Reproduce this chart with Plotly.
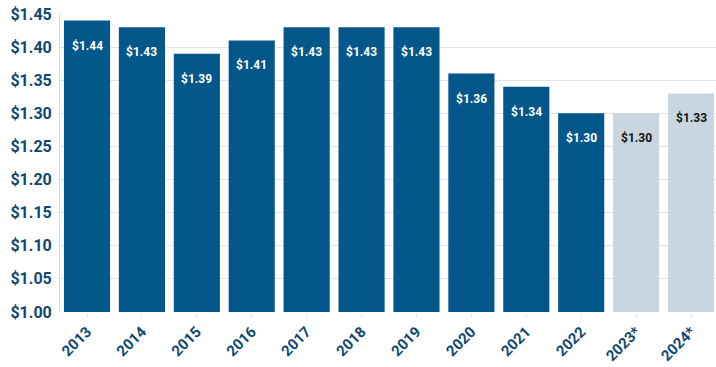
import plotly.graph_objects as go

years = ["2013", "2014", "2015", "2016", "2017", "2018", "2019", "2020", "2021", "2022", "2023*", "2024*"]
values = [1.44, 1.43, 1.39, 1.41, 1.43, 1.43, 1.43, 1.36, 1.34, 1.30, 1.30, 1.33]
projected = [False] * 10 + [True, True]
y_ticks = [1.00, 1.05, 1.10, 1.15, 1.20, 1.25, 1.30, 1.35, 1.40, 1.45]

DARK = "#03578A"
LIGHT = "#C9D6DF"
TEXT = "#0F4870"
FONT = "Roboto, Arial"

colors = [LIGHT if p else DARK for p in projected]

fig = go.Figure(go.Bar(
    x=list(range(len(years))), y=values, base=0,
    marker=dict(color=colors, line=dict(width=0)),
    width=0.84, hoverinfo="skip",
))

for i, (v, p) in enumerate(zip(values, projected)):
    fig.add_annotation(
        x=i, y=v, yshift=-25, text=f"<b>${v:.2f}</b>", showarrow=False,
        font=dict(family=FONT, size=12, color="#111111" if p else "white"),
    )

fig.update_layout(
    width=716, height=367,
    margin=dict(l=60, r=0, t=14, b=55, autoexpand=False),
    paper_bgcolor="white", plot_bgcolor="white",
    showlegend=False,
    xaxis=dict(
        range=[-0.492, 11.455], automargin=False,
        tickmode="array", tickvals=list(range(len(years))),
        ticktext=[f"<b>{y}</b>" for y in years],
        tickangle=-45, tickfont=dict(family=FONT, size=15, color=TEXT),
        showgrid=False, zeroline=False, showline=False,
        ticks="outside", ticklen=4, tickcolor="#e3e3e3",
    ),
    yaxis=dict(
        range=[1.0, 1.45], automargin=False,
        tickmode="array", tickvals=y_ticks,
        ticktext=[f"<b>${t:.2f}</b>" for t in y_ticks],
        tickfont=dict(family=FONT, size=16, color=TEXT),
        ticklabelstandoff=4,
        showgrid=True, gridcolor="#e3e3e3", gridwidth=1,
        zeroline=False, showline=True, linecolor="#dcdcdc", linewidth=1,
        ticks="",
    ),
)

fig.write_html("out.html", config={"displayModeBar": False},
               post_script="document.body.style.margin='0';")
